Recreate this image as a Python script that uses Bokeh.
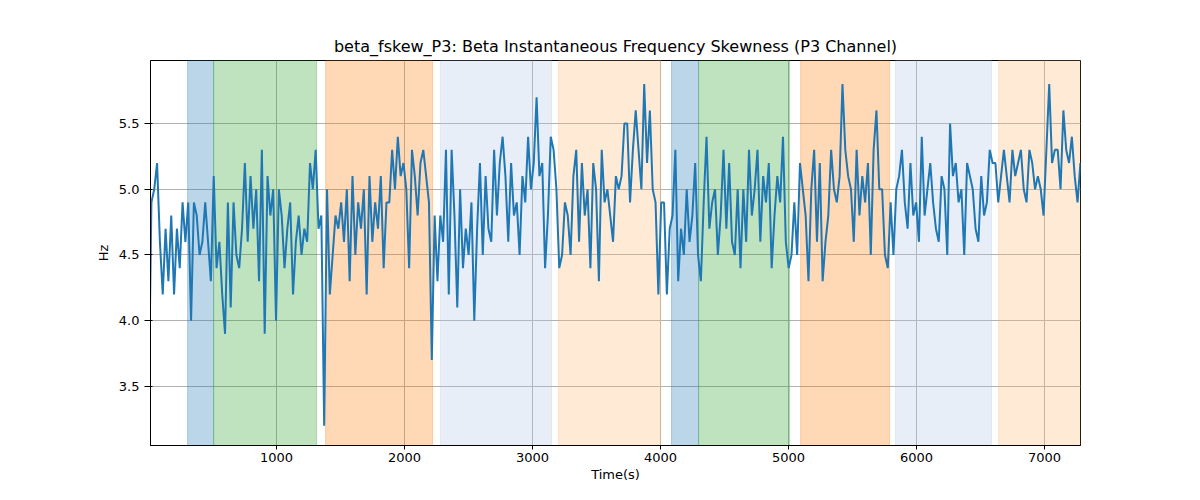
import numpy as np
from bokeh.plotting import figure
from bokeh.models import BoxAnnotation, Range1d, NumeralTickFormatter
from bokeh.embed import file_html
from bokeh.resources import INLINE

values = [3.3,4.9,5.0,5.2,4.6,4.2,4.7,4.3,4.8,4.2,4.7,4.4,4.9,4.6,4.9,4.0,4.9,4.8,4.5,4.6,4.9,4.6,4.3,5.1,4.4,4.6,4.2,3.9,4.9,4.1,4.9,4.5,
4.4,4.7,5.2,4.6,5.1,4.7,5.0,4.3,5.3,3.9,5.1,4.8,5.0,4.0,5.0,4.8,4.4,4.7,4.9,4.2,4.6,4.8,4.5,4.7,4.6,5.2,5.0,5.3,4.7,4.8,3.2,5.0,4.2,4.5,4.8,4.7,4.9,4.6,5.0,4.3,5.1,4.5,4.9,4.7,5.0,4.2,5.1,
4.6,4.9,4.7,5.1,4.4,4.9,
4.9,5.3,5.0,5.4,5.1,5.2,5.0,4.4,5.3,5.1,4.8,5.2,5.3,5.1,4.9,3.7,4.8,4.3,4.8,4.6,5.3,4.2,5.3,4.8,4.1,5.0,4.4,4.7,4.5,4.9,4.0,4.7,5.2,4.5,5.1,4.7,4.6,5.3,4.8,5.2,5.4,5.1,4.6,5.2,4.8,4.9,4.5,5.1,4.9,
5.4,5.0,5.2,5.7,5.1,5.2,4.4,4.8,5.4,5.3,5.0,4.4,4.5,4.9,4.8,4.5,5.1,5.3,4.6,5.2,4.8,5.0,4.4,5.2,5.0,4.3,5.3,4.9,5.0,4.8,4.6,5.1,5.0,5.1,5.5,5.5,4.9,5.3,5.6,5.3,5.0,5.8,5.2,5.6,5.0,
4.9,4.2,4.9,4.9,4.2,4.7,4.8,5.3,4.3,4.7,4.5,5.0,4.6,4.8,5.2,4.5,4.3,4.9,5.4,4.7,4.9,5.0,4.5,4.8,5.3,4.7,5.2,4.6,4.5,5.0,4.4,5.0,4.6,5.3,4.8,5.0,5.3,4.6,5.1,4.9,5.2,4.4,4.8,5.1,
4.9,5.4,4.6,4.4,4.5,4.9,4.5,5.2,5.0,4.8,4.3,5.0,5.3,4.6,5.2,4.3,4.6,4.8,5.3,5.0,4.9,5.1,5.8,5.3,5.1,5.0,4.6,5.3,4.8,5.1,4.9,5.2,4.5,5.3,5.6,5.0,5.0,4.5,4.4,4.9,4.5,5.0,5.1,5.3,4.9,4.7,5.2,
4.8,4.9,4.6,5.4,4.8,5.0,5.2,4.9,4.7,4.6,5.1,5.0,4.5,5.5,5.1,5.2,4.9,5.0,4.5,5.2,5.1,5.0,4.7,4.6,5.1,4.8,4.9,5.3,5.2,5.2,4.9,5.1,5.3,5.1,4.9,5.3,5.1,5.2,5.3,5.0,4.9,5.3,5.2,5.0,5.1,5.0,4.8,5.3,
5.8,5.2,5.3,5.3,5.0,5.6,5.3,5.2,5.4,5.1,4.9,5.2]
t_start, t_end = 0, 7280
times = np.linspace(t_start, t_end, len(values))

band_starts = [305, 508, 1383, 2281, 3203, 4086, 4297, 5094, 5836, 6641]
band_ends = [508, 1313, 2219, 3148, 4000, 4297, 5008, 5789, 6586, 7300]
band_colors = ["#1f77b4", "#2ca02c", "#ff7f0e", "#aec7e8", "#ffbb78",
               "#1f77b4", "#2ca02c", "#ff7f0e", "#aec7e8", "#ffbb78"]

p = figure(width=1184, height=484, output_backend="svg", toolbar_location=None,
           title="beta_fskew_P3: Beta Instantaneous Frequency Skewness (P3 Channel)",
           x_axis_label="Time(s)", y_axis_label="Hz",
           min_border_left=150, min_border_right=104, min_border_top=60, min_border_bottom=20)
p.x_range = Range1d(15, 7281)
p.y_range = Range1d(3.05, 5.98)
for s, e, c in zip(band_starts, band_ends, band_colors):
    p.add_layout(BoxAnnotation(left=s, right=e, fill_color=c, fill_alpha=0.3,
                               line_color=c, line_alpha=0.3, level="underlay"))
p.line(times, values, line_color="#1f77b4", line_width=2)

p.title.align = "center"
p.title.text_font = "DejaVu Sans"
p.title.text_font_style = "normal"
p.title.text_font_size = "16px"
p.title.text_color = "black"
for ax in (p.xaxis[0], p.yaxis[0]):
    ax.axis_label_text_font = "DejaVu Sans"
    ax.axis_label_text_font_style = "normal"
    ax.axis_label_text_font_size = "13px"
    ax.axis_label_text_color = "black"
    ax.major_label_text_font = "DejaVu Sans"
    ax.major_label_text_font_size = "13px"
    ax.major_label_text_color = "black"
    ax.minor_tick_line_color = None
    ax.axis_line_color = "black"
    ax.major_tick_line_color = "black"
p.xaxis.axis_label_standoff = 2
p.xaxis.major_label_standoff = 3
p.xaxis.major_tick_out = 4
p.xaxis.major_tick_in = 0
p.xaxis.ticker = [1000, 2000, 3000, 4000, 5000, 6000, 7000]
p.yaxis.ticker = [3.5, 4.0, 4.5, 5.0, 5.5]
p.yaxis.formatter = NumeralTickFormatter(format="0.0")
p.grid.grid_line_color = "#b0b0b0"
p.grid.grid_line_width = 1
p.grid.level = "underlay"
p.outline_line_color = "black"
p.outline_line_alpha = 1

open("out.html", "w").write(file_html(p, INLINE))
